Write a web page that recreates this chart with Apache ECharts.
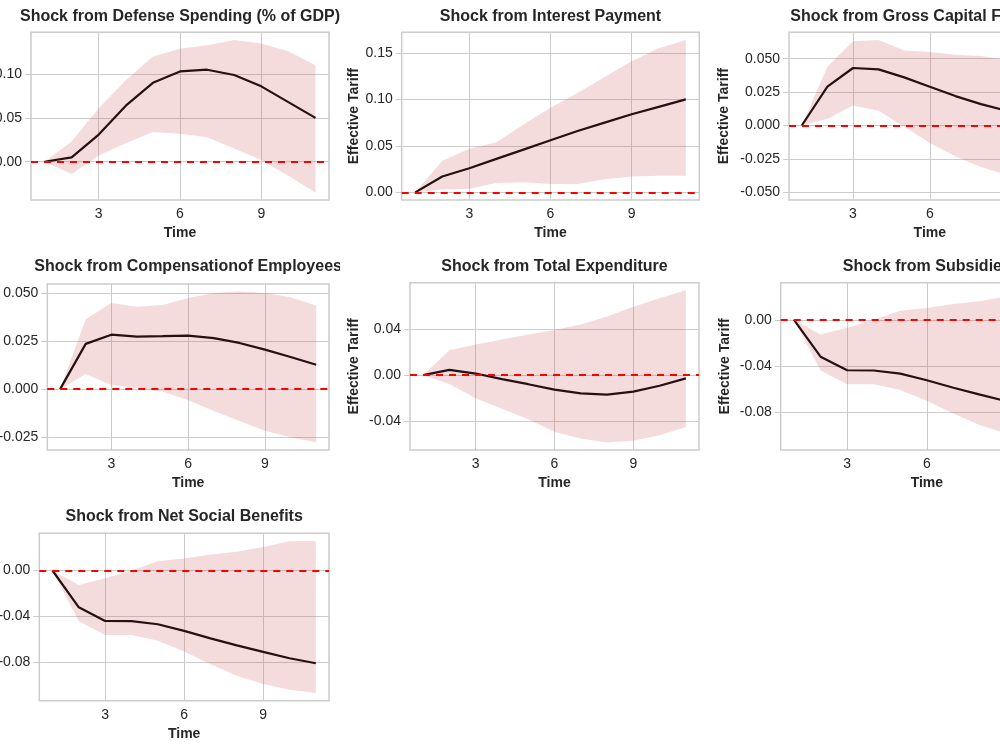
<!DOCTYPE html>
<html>
<head>
<meta charset="utf-8">
<title>Impulse responses of Effective Tariff</title>
<script src="https://cdn.jsdelivr.net/npm/echarts@6/dist/echarts.min.js"></script>
<style>
  html, body { margin: 0; padding: 0; background: #fff; }
  #page { position: relative; width: 1000px; height: 750px; overflow: hidden; background: #fff; }
  .tile { position: absolute; overflow: hidden; }
  .chart { position: absolute; top: 0; }
</style>
</head>
<body>
<div id="page"></div>
<script>
const timeSteps = [1, 2, 3, 4, 5, 6, 7, 8, 9, 10, 11]

// Shock from Defense Spending (% of GDP)
const defenseIrf   = [0, 0.005, 0.031, 0.064, 0.090, 0.103, 0.105, 0.099, 0.086, 0.068, 0.050]
const defenseUpper = [0, 0.023, 0.061, 0.093, 0.120, 0.129, 0.133, 0.139, 0.135, 0.126, 0.110]
const defenseLower = [0, -0.014, 0.007, 0.021, 0.034, 0.032, 0.028, 0.015, 0.002, -0.016, -0.035]

// Shock from Interest Payment
const interestIrf   = [0, 0.017, 0.026, 0.036, 0.046, 0.056, 0.066, 0.075, 0.084, 0.092, 0.100]
const interestUpper = [0, 0.034, 0.047, 0.054, 0.073, 0.091, 0.107, 0.124, 0.141, 0.155, 0.164]
const interestLower = [0, 0.003, 0.004, 0.010, 0.011, 0.009, 0.009, 0.014, 0.017, 0.018, 0.018]

// Shock from Gross Capital Formation
const capitalIrf   = [0, 0.029, 0.043, 0.042, 0.036, 0.029, 0.022, 0.016, 0.011, 0.007, 0.003]
const capitalUpper = [0, 0.044, 0.063, 0.064, 0.056, 0.055, 0.053, 0.052, 0.049, 0.047, 0.044]
const capitalLower = [0, 0.005, 0.015, 0.011, -0.001, -0.013, -0.023, -0.031, -0.037, -0.043, -0.050]

// Shock from Compensation of Employees
const compensationIrf   = [0, 0.0235, 0.0283, 0.0273, 0.0275, 0.0278, 0.0265, 0.0240, 0.0205, 0.0167, 0.0127]
const compensationUpper = [0, 0.0363, 0.0448, 0.0428, 0.0437, 0.0474, 0.0500, 0.0507, 0.0500, 0.0477, 0.0435]
const compensationLower = [0, 0.0078, 0.0022, 0.0005, -0.0012, -0.0058, -0.0114, -0.0165, -0.0216, -0.0250, -0.0277]

// Shock from Total Expenditure
const expenditureIrf   = [0, 0.0046, 0.0014, -0.0034, -0.0078, -0.0125, -0.0157, -0.0168, -0.0142, -0.0091, -0.0028]
const expenditureUpper = [0, 0.0214, 0.0265, 0.0308, 0.0350, 0.0390, 0.0436, 0.0507, 0.0590, 0.0664, 0.0732]
const expenditureLower = [0, -0.0077, -0.0200, -0.0290, -0.0380, -0.0490, -0.0547, -0.0580, -0.0565, -0.0519, -0.0447]

// Shock from Subsidies
const subsidiesIrf   = [0, -0.0320, -0.0438, -0.0440, -0.0467, -0.0525, -0.0590, -0.0650, -0.0707, -0.0762, -0.0806]
const subsidiesUpper = [0, -0.0127, -0.0068, 0.0000, 0.0080, 0.0104, 0.0139, 0.0162, 0.0205, 0.0254, 0.0257]
const subsidiesLower = [0, -0.0440, -0.0560, -0.0560, -0.0610, -0.0704, -0.0814, -0.0915, -0.0987, -0.1036, -0.1065]

// Shock from Net Social Benefits
const socialIrf   = [0, -0.0320, -0.0438, -0.0440, -0.0467, -0.0525, -0.0590, -0.0650, -0.0707, -0.0762, -0.0806]
const socialUpper = [0, -0.0127, -0.0068, 0.0000, 0.0080, 0.0104, 0.0139, 0.0162, 0.0205, 0.0254, 0.0257]
const socialLower = [0, -0.0440, -0.0560, -0.0560, -0.0610, -0.0704, -0.0814, -0.0915, -0.0987, -0.1036, -0.1065]

const FONT = '"Liberation Sans", Arial, Helvetica, sans-serif'
const TEXT = '#262626'
const GRIDLINE = '#cccccc'
const BAND = 'rgba(200, 80, 80, 0.2)'
const PAD = 120

// tile = [x, y, w, h] of the clipped picture cell, box = [left, top, right, bottom] of the plot frame
const panels = [
  { title: 'Shock from Defense Spending (% of GDP)', irf: defenseIrf, upper: defenseUpper, lower: defenseLower,
    step: 0.05, dec: 2, tile: [0, 0, 340, 245], box: [31, 32.3, 329, 200.3], nameGap: 41, titleY: 15 },
  { title: 'Shock from Interest Payment', irf: interestIrf, upper: interestUpper, lower: interestLower,
    step: 0.05, dec: 2, tile: [340, 0, 360, 245], box: [401.7, 32.3, 699.3, 200.3], nameGap: 41, titleY: 15 },
  { title: 'Shock from Gross Capital Formation', irf: capitalIrf, upper: capitalUpper, lower: capitalLower,
    step: 0.025, dec: 3, tile: [700, 0, 300, 245], box: [789, 32.3, 1070.6, 200.3], nameGap: 58, titleY: 15 },
  { title: 'Shock from Compensationof Employees', irf: compensationIrf, upper: compensationUpper, lower: compensationLower,
    step: 0.025, dec: 3, tile: [0, 245, 340, 250], box: [47.3, 284, 329, 450.7], nameGap: 58, titleY: 265 },
  { title: 'Shock from Total Expenditure', irf: expenditureIrf, upper: expenditureUpper, lower: expenditureLower,
    step: 0.04, dec: 2, tile: [340, 245, 360, 250], box: [410, 282.7, 699, 450.7], nameGap: 49, titleY: 265 },
  { title: 'Shock from Subsidies', irf: subsidiesIrf, upper: subsidiesUpper, lower: subsidiesLower,
    step: 0.04, dec: 2, tile: [700, 245, 300, 250], box: [780.7, 282.7, 1073, 450.7], nameGap: 49, titleY: 265 },
  { title: 'Shock from Net Social Benefits', irf: socialIrf, upper: socialUpper, lower: socialLower,
    step: 0.04, dec: 2, tile: [0, 495, 340, 255], box: [39.3, 533.3, 329, 700.7], nameGap: 49, titleY: 515 }
]

const isMultiple = (v, step) => Math.abs(v / step - Math.round(v / step)) < 1e-6

const page = document.getElementById('page')

panels.forEach(p => {
  const [tx, ty, tw, th] = p.tile
  const [L, T, R, B] = p.box

  const tile = document.createElement('div')
  tile.className = 'tile'
  tile.style.left = tx + 'px'
  tile.style.top = ty + 'px'
  tile.style.width = tw + 'px'
  tile.style.height = th + 'px'
  const box = document.createElement('div')
  box.className = 'chart'
  box.style.left = -PAD + 'px'
  box.style.width = (tw + PAD * 2 + 120) + 'px'
  box.style.height = th + 'px'
  tile.appendChild(box)
  page.appendChild(tile)

  // matplotlib-like limits: data range plus 5% margins
  const hi = Math.max(...p.upper, ...p.irf)
  const lo = Math.min(...p.lower, ...p.irf)
  const span = hi - lo
  const yMin = lo - span * 0.05
  const yMax = hi + span * 0.05
  const yTicks = []
  for (let k = Math.ceil(yMin / p.step); k * p.step <= yMax; k++) yTicks.push(+(k * p.step).toFixed(6))

  const chart = echarts.init(box)
  chart.setOption({
    animation: false,
    textStyle: { fontFamily: FONT },
    title: {
      text: p.title,
      left: (L + R) / 2 - tx + PAD,
      top: p.titleY - ty - 6,
      textAlign: 'center',
      padding: 0,
      textStyle: { fontSize: 16, fontWeight: 'bold', color: TEXT, fontFamily: FONT }
    },
    grid: {
      left: L - tx + PAD,
      top: T - ty,
      width: R - L,
      height: B - T,
      show: true,
      borderColor: GRIDLINE,
      borderWidth: 1.5,
      backgroundColor: 'transparent'
    },
    xAxis: {
      type: 'value',
      min: 0.5,
      max: 11.5,
      minInterval: 3,
      maxInterval: 3,
      name: 'Time',
      nameLocation: 'middle',
      nameGap: 26,
      nameMoveOverlap: false,
      nameTextStyle: { fontSize: 14, fontWeight: 'bold', color: TEXT, fontFamily: FONT },
      axisLine: { show: false, onZero: false },
      axisTick: { show: false, customValues: [3, 6, 9] },
      axisLabel: {
        customValues: [3, 6, 9],
        margin: 7,
        fontSize: 14,
        color: TEXT,
        fontFamily: FONT,
        formatter: v => (isMultiple(v, 3) ? String(Math.round(v)) : '')
      },
      splitLine: { show: true, lineStyle: { color: GRIDLINE, width: 1 } }
    },
    yAxis: {
      type: 'value',
      min: yMin,
      max: yMax,
      minInterval: p.step,
      maxInterval: p.step,
      name: 'Effective Tariff',
      nameLocation: 'middle',
      nameGap: p.nameGap,
      nameMoveOverlap: false,
      nameTextStyle: { fontSize: 14, fontWeight: 'bold', color: TEXT, fontFamily: FONT },
      axisLine: { show: false, onZero: false },
      axisTick: { show: true, length: 6, customValues: yTicks, lineStyle: { color: GRIDLINE, width: 1 } },
      axisLabel: {
        customValues: yTicks,
        margin: 9,
        fontSize: 14,
        color: TEXT,
        fontFamily: FONT,
        formatter: v => (isMultiple(v, p.step) ? v.toFixed(p.dec) : '')
      },
      splitLine: { show: true, lineStyle: { color: GRIDLINE, width: 1 } }
    },
    series: [
      {
        type: 'custom',
        silent: true,
        z: 1,
        data: timeSteps.map((t, i) => [t, p.lower[i], p.upper[i]]),
        encode: { x: 0, y: [1, 2] },
        renderItem: (params, api) => {
          if (params.dataIndex !== 0) return null
          const top = timeSteps.map((t, i) => api.coord([t, p.upper[i]]))
          const bottom = timeSteps.map((t, i) => api.coord([t, p.lower[i]])).reverse()
          return {
            type: 'polygon',
            shape: { points: top.concat(bottom) },
            style: { fill: BAND }
          }
        }
      },
      {
        type: 'line',
        z: 3,
        symbol: 'none',
        data: timeSteps.map((t, i) => [t, p.irf[i]]),
        lineStyle: { color: '#261012', width: 2.2 },
        markLine: {
          silent: true,
          symbol: 'none',
          label: { show: false },
          lineStyle: { color: '#ff0000', type: [7, 6], width: 2 },
          data: [{ yAxis: 0 }]
        }
      }
    ]
  })
})
</script>
</body>
</html>
